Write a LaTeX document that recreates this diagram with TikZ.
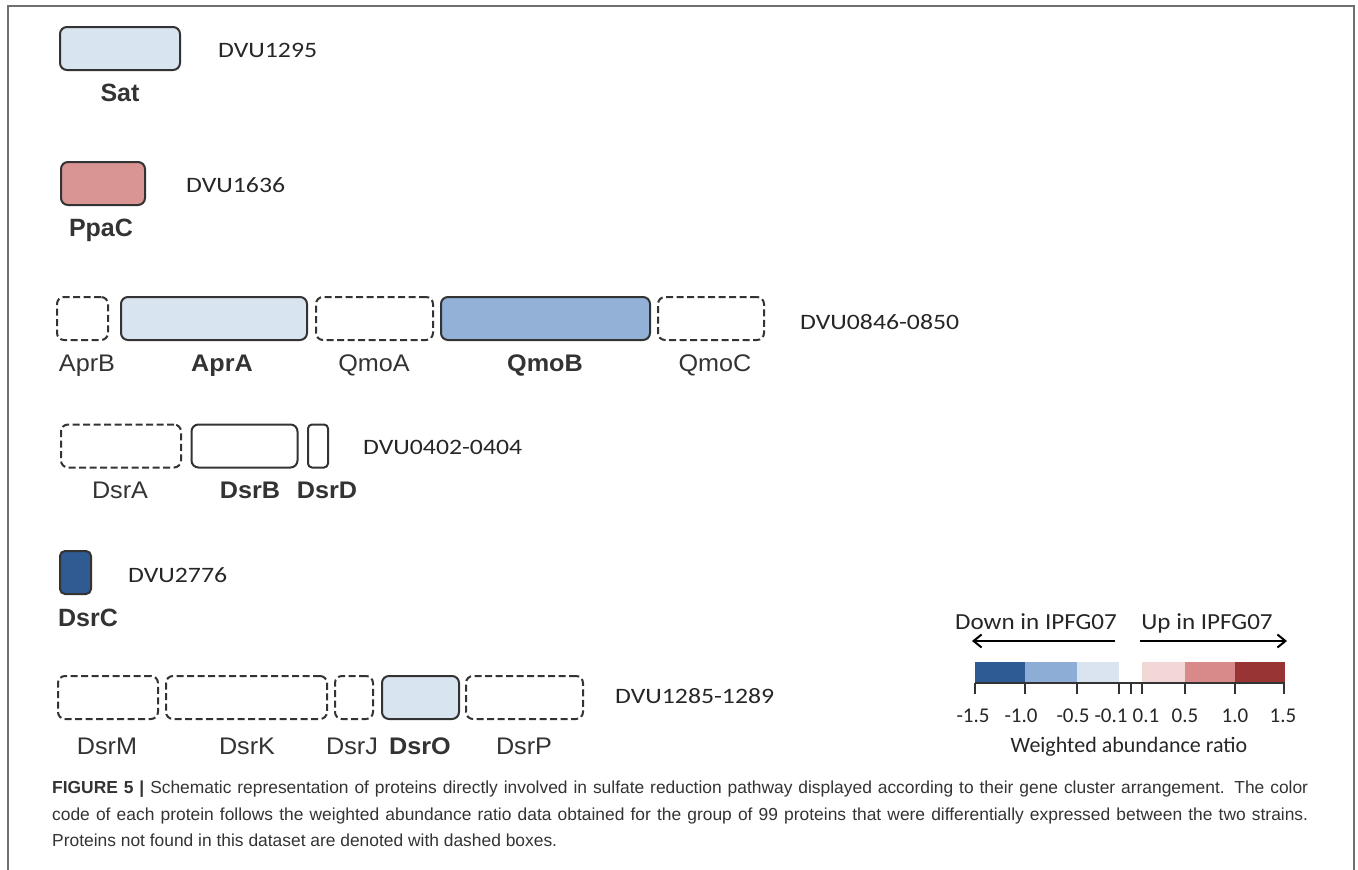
\documentclass[tikz,border=0pt]{standalone}
\usepackage{fontspec}
\setmainfont{Liberation Sans}
\newfontfamily\calibri{Carlito}
\usetikzlibrary{arrows.meta}

\definecolor{edgegray}{HTML}{333333}
\definecolor{textgray}{HTML}{333333}
\definecolor{framegray}{HTML}{707070}
\definecolor{paleblue}{HTML}{D9E4F1}
\definecolor{midblue}{HTML}{93B0D7}
\definecolor{deepblue}{HTML}{2F5A92}
\definecolor{rosepink}{HTML}{D99494}
\definecolor{barA}{HTML}{2F5B95}
\definecolor{barB}{HTML}{8EADD6}
\definecolor{barC}{HTML}{D9E4F0}
\definecolor{barD}{HTML}{F2D7D7}
\definecolor{barE}{HTML}{D88A8A}
\definecolor{barF}{HTML}{983434}

\tikzset{
  prot/.style={draw=edgegray, line width=2pt, rounded corners=7pt,
    minimum height=43pt, inner sep=0pt},
  absent/.style={prot, dash pattern=on 7pt off 3.5pt},
  single/.style={font=\fontsize{25}{30}\selectfont\bfseries, text=textgray,
    inner sep=0pt, anchor=mid},
  rowname/.style={font=\fontsize{24}{28}\selectfont, text=textgray,
    inner sep=0pt, anchor=mid, xscale=1.05},
  rowbold/.style={rowname, font=\fontsize{24}{28}\selectfont\bfseries},
  locus/.style={font=\calibri\fontsize{22}{26}\selectfont, text=black!85,
    inner sep=0pt, anchor=west, xscale=1.17},
  legtext/.style={font=\calibri\fontsize{22}{26}\selectfont, text=black!85,
    inner sep=0pt, anchor=base},
  ticktext/.style={legtext, font=\calibri\fontsize{21}{25}\selectfont},
  legarrow/.style={line width=2pt, -{Straight Barb[length=8pt,width=13pt,line width=2pt]}},
}

\begin{document}
\begin{tikzpicture}[x=1pt, y=-1pt]
  \useasboundingbox (0,0) rectangle (1358,870);
  \draw[framegray, line width=2.5pt] (8,870) -- (8,6) -- (1354,6) -- (1354,870);

  % Sat
  \node[prot, fill=paleblue, minimum width=120pt] (sat) at (120, 48.5) {};
  \node[single] (satl) at (120, 99) {Sat};
  \node[locus] (satloc) at (218, 50) {DVU1295};

  % PpaC
  \node[prot, fill=rosepink, minimum width=84pt] (ppac) at (103, 183.5) {};
  \node[single] (ppacl) at (101, 234) {PpaC};
  \node[locus] (ppacloc) at (186, 185) {DVU1636};

  % Apr / Qmo cluster
  \node[absent, minimum width=51pt] (aprb) at (82.5, 318.5) {};
  \node[prot, fill=paleblue, minimum width=186pt] (apra) at (214, 318.5) {};
  \node[absent, minimum width=117pt] (qmoa) at (374.5, 318.5) {};
  \node[prot, fill=midblue, minimum width=209pt] (qmob) at (545.5, 318.5) {};
  \node[absent, minimum width=106pt] (qmoc) at (711, 318.5) {};
  \node[rowname] (aprbl) at (87, 369) {AprB};
  \node[rowbold] (apral) at (222, 369) {AprA};
  \node[rowname] (qmoal) at (374, 369) {QmoA};
  \node[rowbold] (qmobl) at (545, 369) {QmoB};
  \node[rowname] (qmocl) at (715, 369) {QmoC};
  \node[locus] (aprloc) at (800, 322) {DVU0846-0850};

  % Dsr AB D cluster
  \node[absent, minimum width=120pt] (dsra) at (121, 446) {};
  \node[prot, minimum width=106pt] (dsrb) at (244.5, 446) {};
  \node[prot, minimum width=20pt, rounded corners=4pt] (dsrd) at (318, 446) {};
  \node[rowname] (dsral) at (120, 496) {DsrA};
  \node[rowbold] (dsrbl) at (250, 496) {DsrB};
  \node[rowbold] (dsrdl) at (327, 496) {DsrD};
  \node[locus] (dsrabloc) at (363, 447) {DVU0402-0404};

  % DsrC
  \node[prot, fill=deepblue, minimum width=31pt, rounded corners=5pt] (dsrc) at (75.5, 572.5) {};
  \node[single] (dsrcl) at (88, 624) {DsrC};
  \node[locus] (dsrcloc) at (128, 575) {DVU2776};

  % Dsr MKJOP cluster
  \node[absent, minimum width=100pt] (dsrm) at (108, 697.5) {};
  \node[absent, minimum width=161pt] (dsrk) at (246.5, 697.5) {};
  \node[absent, minimum width=38pt] (dsrj) at (354, 697.5) {};
  \node[prot, fill=paleblue, minimum width=77pt] (dsro) at (420.5, 697.5) {};
  \node[absent, minimum width=117pt] (dsrp) at (524.5, 697.5) {};
  \node[rowname] (dsrml) at (107, 752) {DsrM};
  \node[rowname] (dsrkl) at (247, 752) {DsrK};
  \node[rowname] (dsrjl) at (352, 752) {DsrJ};
  \node[rowbold] (dsrol) at (420, 752) {DsrO};
  \node[rowname] (dsrpl) at (524, 752) {DsrP};
  \node[locus] (dsrmloc) at (615, 696) {DVU1285-1289};

  % legend
  \coordinate (downtail) at (1115, 641);
  \coordinate (downtip) at (972, 641);
  \coordinate (uptail) at (1140, 641);
  \coordinate (uptip) at (1287, 641);
  \draw[legarrow] (downtail) -- (downtip);
  \draw[legarrow] (uptail) -- (uptip);
  \node[legtext, xscale=1.09, font=\calibri\fontsize{23}{27}\selectfont] (down) at (1036, 629) {Down in IPFG07};
  \node[legtext, xscale=1.09, font=\calibri\fontsize{23}{27}\selectfont] (up) at (1207, 629) {Up in IPFG07};

  \fill[barA] (975,662) rectangle (1025,682);
  \fill[barB] (1025,662) rectangle (1077,682);
  \fill[barC] (1077,662) rectangle (1119,682);
  \fill[barD] (1142,662) rectangle (1185,682);
  \fill[barE] (1185,662) rectangle (1235,682);
  \fill[barF] (1235,662) rectangle (1285,682);
  \draw[line width=1.5pt, edgegray] (975,683) -- (1285,683);
  \foreach \tx in {975,1025,1077,1119,1131,1142,1185,1235,1284}
    \draw[line width=1.5pt, edgegray] (\tx,683) -- (\tx,694);
  \foreach \tx/\tl in {973/-1.5, 1021/-1.0, 1073/-0.5, 1111/-0.1, 1146/0.1, 1185/0.5, 1235/1.0, 1283/1.5}
    \node[ticktext] (tick\tx) at (\tx, 722) {\tl};
  \node[legtext] (ratio) at (1129, 752) {Weighted abundance ratio};

  % caption
  \node[anchor=north west, inner sep=0pt, text width=1256pt, align=justify,
    font=\fontsize{17.4}{26.5}\selectfont, text=textgray] (caption) at (52, 781)
    {\textbf{FIGURE 5 |} Schematic representation of proteins directly involved in sulfate reduction pathway displayed according to their gene cluster arrangement. The color\linebreak
    code of each protein follows the weighted abundance ratio data obtained for the group of 99 proteins that were differentially expressed between the two strains.\linebreak
    Proteins not found in this dataset are denoted with dashed boxes.};
\end{tikzpicture}
\end{document}
